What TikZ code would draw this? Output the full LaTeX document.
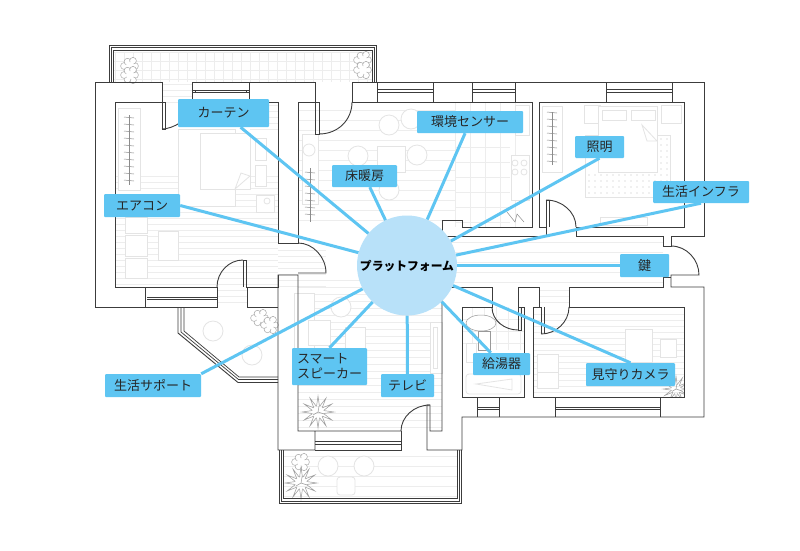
\documentclass[tikz,border=0pt]{standalone}
\usepackage{fontspec}
\setmainfont{Noto Sans CJK JP}
\usepackage{xcolor}
\usetikzlibrary{positioning,calc}
\definecolor{accent}{HTML}{5EC5F2}
\definecolor{hubfill}{HTML}{B8E1F9}
\definecolor{wallc}{HTML}{3C3C3C}
\definecolor{furn}{HTML}{E4E4E4}
\definecolor{hatchc}{HTML}{EDEDED}
\tikzset{
  tag/.style={rectangle, fill=accent, rounded corners=1pt, inner sep=0pt, font=\fontsize{13}{15}\selectfont, text=black!85, align=left},
  link/.style={line width=3pt, accent},
  wall/.style={draw=wallc, line width=0.9pt, line join=miter},
  thinwall/.style={draw=wallc, line width=0.7pt},
  furniture/.style={draw=furn, line width=0.8pt, fill=white},
  hatch/.style={draw=hatchc, line width=0.7pt},
  hanger/.style={draw=black!45, line width=0.5pt},
  leaf/.pic={
    \foreach \a/\r in {0/5,60/6,120/5,180/6,240/5,300/6}
      \draw[draw=black!35, fill=white, line width=0.5pt] (\a:\r) circle (3.4pt);
    \draw[draw=white, fill=white] (0,0) circle (4pt);
  },
  spiky/.pic={
    \foreach \a in {0,30,...,330} {
      \draw[draw=black!40, line width=0.5pt] (\a-14:6) -- (\a:16) -- (\a+14:6);
    }
    \draw[draw=black!40, line width=0.5pt] (0,0) -- (6,2) (0,0) -- (-5,3) (0,0) -- (1,-6);
  }
}
\begin{document}
\begin{tikzpicture}[x=1pt,y=-1pt]
\fill[white] (0,0) rectangle (800,550);

% hatching of the floors
\foreach \y in {176,182,...,286} \draw[hatch] (115,\y) -- (278,\y);
\foreach \y in {105,111,...,130} \draw[hatch] (250,\y) -- (278,\y);
\foreach \y in {250,256,...,286} \draw[hatch] (278,\y) -- (326,\y);
\foreach \y in {84,90,...,102} \draw[hatch] (162,\y) -- (192,\y);
\foreach \y in {110,120,...,226} \draw[hatch] (298,\y) -- (455,\y);
\foreach \y in {280,287,...,430} \draw[hatch] (298,\y) -- (442,\y);
\foreach \y in {242,252,...,285} \draw[hatch] (442,\y) -- (663,\y);
\foreach \y in {314,320,...,396} \draw[hatch] (533,\y) -- (684,\y);
\foreach \y in {290,296,...,306} \draw[hatch] (539,\y) -- (569,\y);
\foreach \y in {290,296,...,306} \draw[hatch] (218,\y) -- (247,\y);
\foreach \y in {456,466,...,496} \draw[hatch] (284,\y) -- (457,\y);
% tiles
\foreach \x in {115,124,...,372} \draw[hatch] (\x,52) -- (\x,82);
\foreach \y in {52,61,...,82} \draw[hatch] (113,\y) -- (373,\y);
\foreach \x in {455,470,...,515} \draw[hatch] (\x,102) -- (\x,227);
\foreach \y in {117,132,...,227} \draw[hatch] (455,\y) -- (510,\y);
\foreach \x in {472,484,...,520} \draw[hatch] (\x,307) -- (\x,350);
\foreach \y in {319,331,343} \draw[hatch] (462,\y) -- (524,\y);

% furniture, left bedroom
\node[furniture, minimum width=22pt, minimum height=82pt, inner sep=0pt] (closetl) at (129,149) {};
\draw[furniture] (178,129) rectangle (235,206);
\draw[furniture] (200,133) rectangle (250,189);
\draw[furniture] (235,189) -- (241,173) -- (250,176) -- cycle;
\draw[furniture] (255,138) rectangle (266,160);
\draw[furniture] (255,165) rectangle (266,186);
\draw[furniture] (256,195) rectangle (274,212);
\draw[furniture] (267,201) circle (3pt);
\draw[furniture] (125,217) rectangle (147,233);
\draw[furniture] (125,235) rectangle (147,256);
\draw[furniture] (125,258) rectangle (147,278);
\draw[furniture] (158,231) rectangle (178,260);
\draw[hanger] (129,115) -- (129,185);
\foreach \y in {117,124,...,180} \draw[hanger] (124,\y) -- (134,\y+1);

% furniture, living room
\node[furniture, minimum width=16pt, minimum height=70pt, inner sep=0pt] (closetm) at (310,169) {};
\draw[furniture] (309,150) circle (6pt);
\draw[furniture] (358,156) circle (10pt);
\draw[furniture] (389,125) circle (10pt);
\draw[furniture] (377,146) rectangle (405,172);
\draw[furniture] (417,155) circle (10pt);
\draw[furniture] (389,190) circle (10pt);
\draw[furniture] (411,119) circle (10pt);
\draw[furniture] (515,105) rectangle (529,135);
\draw[furniture] (511,155) rectangle (529,200);
\foreach \py in {163,172} \foreach \px in {515,524} \draw[furniture] (\px,\py) circle (3pt);
\draw[hanger] (310,168) -- (310,222);
\foreach \y in {172,179,...,218} \draw[hanger] (305,\y) -- (315,\y+1);
\draw[hanger] (507,212) -- (515,222) -- (517,214) -- (524,222);

% furniture, right bedroom
\node[furniture, minimum width=20pt, minimum height=66pt, inner sep=0pt] (closetr) at (552,139) {};
\draw[furniture] (584,105) rectangle (600,123);
\draw[furniture] (585,135) rectangle (670,197);
\draw[furniture] (598,106) rectangle (657,172);
\draw[furniture] (602,110) rectangle (626,120);
\draw[furniture] (631,110) rectangle (655,120);
\draw[furniture] (661,105) rectangle (681,123);
\foreach \x in {589,595,...,667} \foreach \y in {175,181,...,194} \fill[black!25] (\x,\y) circle (0.7pt);
\foreach \y in {139,145,...,172} \foreach \x in {661,667} \fill[black!25] (\x,\y) circle (0.7pt);
\draw[furniture] (642,125) -- (657,141) -- (647,141) -- cycle;
\draw[furniture] (600,217) rectangle (647,225);
\draw[hanger] (552,112) -- (552,165);
\foreach \y in {112,119,...,162} \draw[hanger] (547,\y) -- (557,\y+1);

% furniture, lower rooms
\draw[furniture] (294,293) rectangle (314,383);
\draw[furniture] (308,320) rectangle (330,345);
\draw[furniture] (345,327) rectangle (365,352);
\draw[furniture] (341,307) circle (10pt);
\draw[furniture] (430,322) rectangle (442,373);
\draw[furniture] (433,327) rectangle (437,368);
\draw[furniture] (466,343) rectangle (476,362);
\draw[draw=black!40, fill=white, line width=0.5pt] (478,331) rectangle (490,350);
\draw[draw=black!40, fill=white, line width=0.5pt] (481,323) ellipse (15pt and 8pt);
\draw[furniture, rounded corners=3pt] (466,374) rectangle (521,394);
\draw[furniture] (476,384) -- (512,379) -- (512,390) -- cycle;
\draw[furniture] (537,354) rectangle (558,372);
\draw[furniture] (537,372) rectangle (558,388);
\draw[furniture] (625,329) rectangle (652,362);
\draw[furniture] (660,339) rectangle (676,357);
\draw[furniture] (213,331) circle (10pt);
\draw[furniture] (252,355) circle (10pt);
\draw[furniture] (328,466) circle (10pt);
\draw[furniture] (364,466) circle (10pt);
\draw[furniture, rounded corners=3pt] (337,477) rectangle (355,495);

% plants
\pic at (130,66) {leaf};
\pic at (130,75) {leaf};
\pic at (363,60) {leaf};
\pic at (363,70) {leaf};
\pic at (260,318) {leaf};
\pic at (270,325) {leaf};
\pic at (301,462) {leaf};
\pic at (301,483) {spiky};
\pic at (318,412) {spiky};
\begin{scope}
\clip (640,370) rectangle (684,397);
\pic[scale=0.8] at (676,389) {spiky};
\end{scope}

% balconies
\draw[wall] (109.5,82) -- (109.5,45) -- (376,45) -- (376,82);
\draw[thinwall] (111.5,82) -- (111.5,47.5) -- (374,47.5) -- (374,82);
\draw[thinwall] (113.5,82) -- (113.5,50) -- (372,50) -- (372,82);
\draw[wall] (178,307) -- (178,333) -- (238,382.5) -- (278,382.5);
\draw[thinwall] (181,307) -- (181,332) -- (238.5,379.5) -- (278,379.5);
\draw[thinwall] (184,307) -- (184,331) -- (239,377) -- (278,377);
\draw[wall] (279,450) -- (279,503) -- (461,503) -- (461,450);
\draw[thinwall] (281,450) -- (281,501) -- (459,501) -- (459,450);
\draw[thinwall] (283,450) -- (283,498) -- (457,498) -- (457,450);

% walls
\draw[wall] (95,307) -- (95,82) -- (162,82) -- (162,129) -- (165,129) -- (165,102) -- (115,102) -- (115,287) -- (145,287) -- (145,307) -- cycle;
\draw[wall] (162,129) .. controls (172,129) and (192,120) .. (192,102);
\draw[wall] (192,102) -- (192,82) -- (315,82) -- (315,134) -- (319,134) -- (319,102) -- (298,102) -- (298,243) -- (278,243) -- (278,102) -- (192,102);
\draw[wall] (249,82) -- (249,102);
\draw[thinwall] (192,90) -- (249,90) (192,92.5) -- (249,92.5) (195,90) -- (195,92.5) (246,90) -- (246,92.5);
\draw[wall] (319,134) .. controls (338,134) and (352,120) .. (352,102);
\draw[wall] (352,102) -- (352,82) -- (704,82) -- (704,236) -- (671,236) -- (671,246) -- (663,246) -- (663,236) -- (576,236) -- (576,227) -- (684,227) -- (684,102) -- (539,102) -- (539,227) -- (546,227);
\draw[wall] (352,102) -- (532,102) -- (532,227) -- (462,227) -- (462,220) -- (442,220) -- (442,236) -- (546,236) -- (546,200) -- (549,200) -- (549,227);
\draw[wall] (377,82) -- (377,102) (433,82) -- (433,102) (472,82) -- (472,102) (515,82) -- (515,102) (606,82) -- (606,102) (672,82) -- (672,102);
\draw[thinwall] (377,89) -- (433,89) (377,92) -- (433,92) (472,89) -- (515,89) (472,92) -- (515,92) (606,89) -- (672,89) (606,92) -- (672,92);
\draw[wall] (546,200) .. controls (562,200) and (576,212) .. (576,227);
\draw[wall] (671,246) .. controls (687,246) and (699,260) .. (699,275) -- (671,275) -- (671,287) -- (704,287) -- (704,417) -- (462,417) -- (462,450) -- (427,450) -- (427,405) -- (430,405) -- (430,431) -- (442,431) -- (442,285);
\draw[wall] (663,277) -- (671,277) (663,277) -- (663,287) -- (569,287) -- (569,307) -- (684,307) -- (684,397) -- (533,397) -- (533,307) -- (541,307) -- (541,334);
\draw[wall] (569,307) .. controls (569,322) and (556,334) .. (541,334);
\draw[wall] (544,307) -- (544,334);
\draw[wall] (539,307) -- (539,287) -- (518,287) -- (518,330) -- (521,330) -- (521,307);
\draw[wall] (442,287) -- (492,287) -- (492,307) -- (462,307) -- (462,397) -- (524,397) -- (524,307) -- (518,307);
\draw[wall] (492,307) .. controls (492,321) and (505,330) .. (518,330);
\draw[wall] (477,397) -- (477,417) (499,397) -- (499,417) (555,397) -- (555,417) (660,397) -- (660,417);
\draw[thinwall] (477,407) -- (499,407) (477,409) -- (499,409) (555,407) -- (660,407) (555,409) -- (660,409);
\draw[wall] (430,405) .. controls (414,405) and (401,417) .. (401,431) -- (315,431) -- (315,450) -- (278,450) -- (278,275) -- (298,275) -- (298,431) -- (315,431);
\draw[wall] (401,431) -- (401,450) -- (315,450);
\draw[thinwall] (315,441) -- (401,441) (315,444) -- (401,444);
\draw[wall] (298,243) .. controls (313,243) and (326,257) .. (326,273) -- (298,273);
\draw[wall] (278,275) -- (278,287) -- (246,287) -- (246,260) -- (243,260) -- (243,287);
\draw[wall] (243,260) .. controls (229,260) and (217,272) .. (217,287);
\draw[wall] (145,287) -- (217,287) -- (217,307) -- (145,307);
\draw[thinwall] (147,297) -- (217,297) (147,299.5) -- (217,299.5);
\draw[wall] (247,287) -- (247,307) -- (278,307);

% hub and tags
\node[circle, fill=hubfill, minimum size=100pt, inner sep=0pt, font=\fontsize{11.8}{13}\selectfont\bfseries] (hub) at (407,265.5) {プラットフォーム};
\node[tag, minimum width=91pt, minimum height=28pt] (curtain) at (223.5,113) {カーテン};
\node[tag, minimum width=65pt, minimum height=22pt] (floorheat) at (364.5,176) {床暖房};
\node[tag, minimum width=76pt, minimum height=23pt] (aircon) at (142,205.5) {エアコン};
\node[tag, minimum width=106pt, minimum height=22pt] (envsensor) at (470,122) {環境センサー};
\node[tag, minimum width=49pt, minimum height=22pt] (lighting) at (599.5,147) {照明};
\node[tag, minimum width=96pt, minimum height=22pt] (infra) at (701,192) {生活インフラ};
\node[tag, minimum width=49pt, minimum height=23pt] (doorkey) at (644.5,265.5) {鍵};
\node[tag, minimum width=57pt, minimum height=22pt] (heater) at (501.5,364) {給湯器};
\node[tag, minimum width=89pt, minimum height=23pt] (camera) at (630.5,374.5) {見守りカメラ};
\node[tag, minimum width=75pt, minimum height=37pt] (speaker) at (329.5,366.5) {スマート\\スピーカー};
\node[tag, minimum width=53pt, minimum height=23pt] (tv) at (407.5,385.5) {テレビ};
\node[tag, minimum width=96pt, minimum height=23pt] (support) at (153,385.5) {生活サポート};

\draw[link] (curtain) -- (hub);
\draw[link] (floorheat) -- (hub);
\draw[link] (aircon.east) -- (hub);
\draw[link] (envsensor) -- (hub);
\draw[link] (lighting.south) -- (hub);
\draw[link] (infra.south) -- (hub);
\draw[link] (doorkey) -- (hub);
\draw[link] (heater) -- (hub);
\draw[link] (camera.north) -- (hub);
\draw[link] (speaker.north) -- (hub);
\draw[link] (tv) -- (hub);
\draw[link] (support.north east) -- (hub);
\end{tikzpicture}
\end{document}
